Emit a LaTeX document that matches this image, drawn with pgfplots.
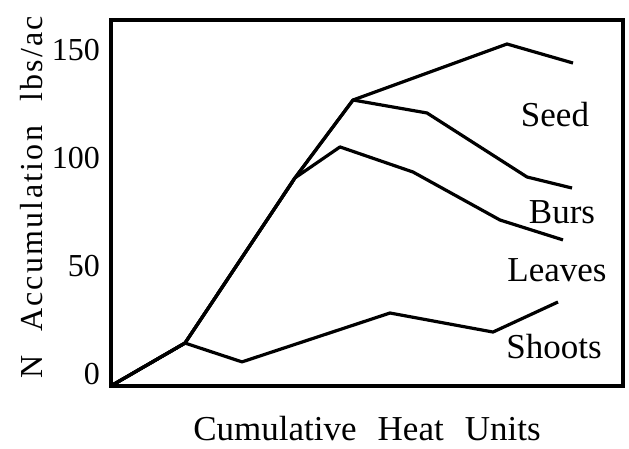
\documentclass[border=0pt]{standalone}
\usepackage{fontspec}
\setmainfont{Liberation Serif}
\usepackage{pgfplots}
\pgfplotsset{compat=1.18}
\begin{document}
\begin{tikzpicture}
\begin{axis}[
 scale only axis, width=512pt, height=366pt,
 xmin=0, xmax=512, ymin=-5.55, ymax=163.7,
 xtick=\empty, ytick={0,50,100,150},
 /pgf/number format/assume math mode=true,
 major tick length=0pt,
 axis line style={line width=3.4pt},
 yticklabel style={font=\fontsize{32}{38}\selectfont, inner sep=0pt, xshift=-11pt},
 ylabel={N\hspace{0.75em}Accumulation\hspace{0.75em}lbs/ac},
 xlabel={Cumulative\hspace{0.6em}Heat\hspace{0.6em}Units},
 every axis y label/.style={at={(axis description cs:-0.156,0.515)}, rotate=90, anchor=center, inner sep=0pt, font=\fontsize{32}{38}\selectfont\addfontfeatures{LetterSpace=7}},
 every axis x label/.style={at={(axis description cs:0.5,-0.148)}, anchor=base, inner sep=0pt, font=\fontsize{35}{40}\selectfont},
 clip=false,
]
% Seed
\addplot[black, line width=3.2pt, line join=round, no markers] coordinates {(0,-5.5) (74,14.3) (184,90.7) (242,126.7) (396,152.6) (462,143.8)};
% Burs
\addplot[black, line width=3.2pt, line join=round, no markers] coordinates {(0,-5.5) (74,14.3) (184,90.7) (242,126.7) (316,120.7) (416,91.1) (461,86.0)};
% Leaves
\addplot[black, line width=3.2pt, line join=round, no markers] coordinates {(0,-5.5) (74,14.3) (184,90.7) (229,105.0) (302,93.4) (389,71.2) (452,62.0)};
% Shoots
\addplot[black, line width=3.2pt, line join=round, no markers] coordinates {(0,-5.5) (74,14.3) (131,5.6) (279,28.2) (382,19.4) (447,33.3)};
\begin{scope}[every node/.style={font=\fontsize{35}{40}\selectfont, anchor=center}]
\node at (axis cs:444,119.8) {Seed};
\node at (axis cs:451,74.9) {Burs};
\node at (axis cs:446,48.1) {Leaves};
\node at (axis cs:443,12.5) {Shoots};
\end{scope}
\end{axis}
\pgfresetboundingbox
\path (current axis.south west) ++(-111pt,-63pt) rectangle ++(629pt,449pt);
\end{tikzpicture}
\end{document}
